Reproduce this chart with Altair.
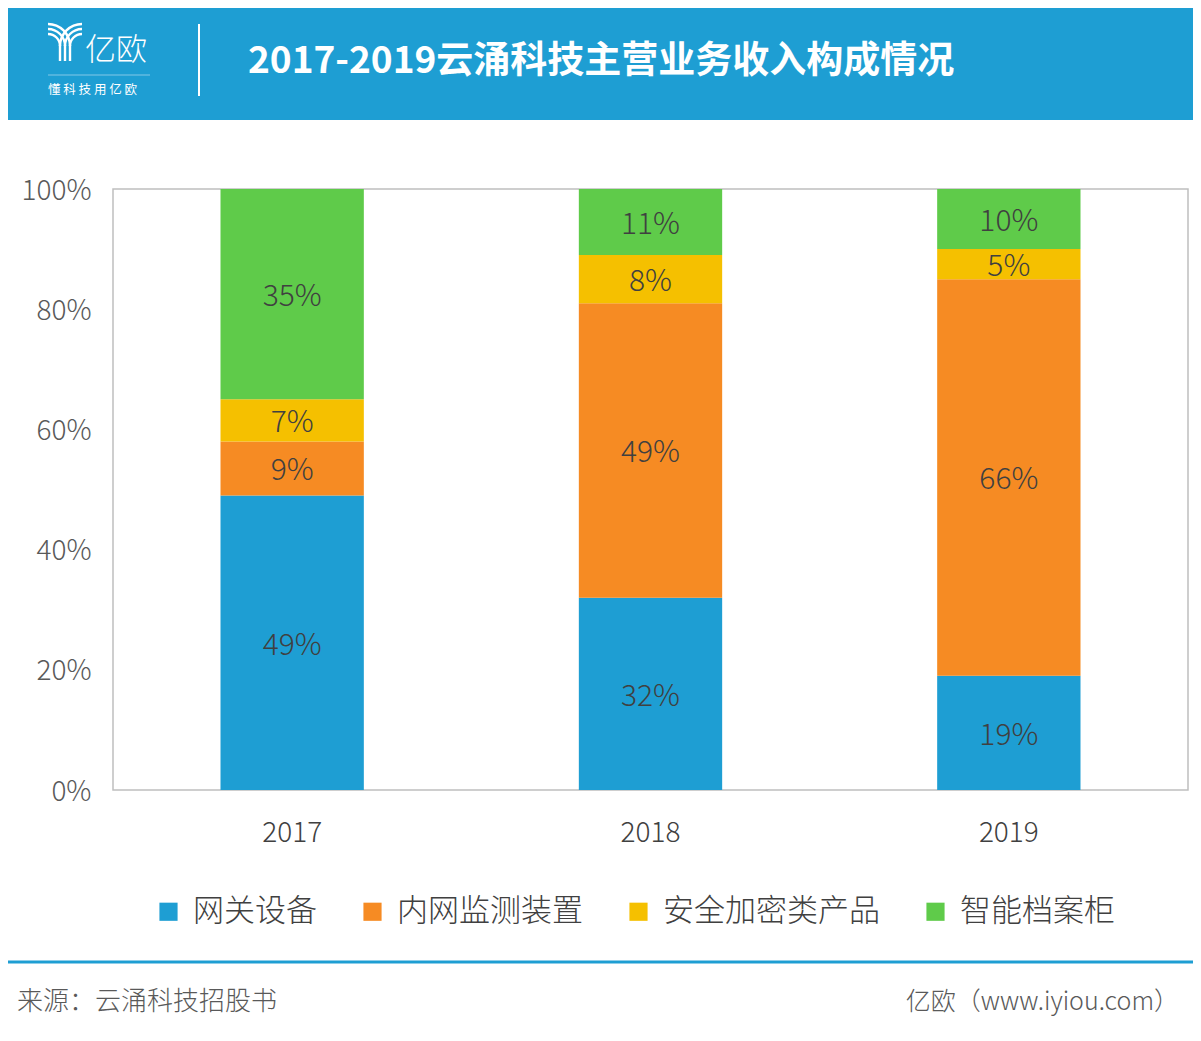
import math
import altair as alt
import pandas as pd

years = ["2017", "2018", "2019"]
categories = ["网关设备", "内网监测装置", "安全加密类产品", "智能档案柜"]
colors = ["#1E9ED3", "#F68B23", "#F5C000", "#5FCB4A"]
values = {
    "网关设备": [49, 32, 19],
    "内网监测装置": [9, 49, 66],
    "安全加密类产品": [7, 8, 5],
    "智能档案柜": [35, 11, 10],
}
y_ticks = [0, 20, 40, 60, 80, 100]
title_text = "2017-2019云涌科技主营业务收入构成情况"
source_text = "来源：云涌科技招股书"
site_text = "亿欧（www.iyiou.com）"

FONT = "Noto Sans CJK SC"
W, H = 1075, 601

rows = []
for ci, c in enumerate(categories):
    for yi, y in enumerate(years):
        rows.append({"year": y, "cat": c, "value": values[c][yi], "order": ci})
df = pd.DataFrame(rows)

base = alt.Chart(df).transform_stack(
    stack="value", groupby=["year"], sort=[alt.SortField("order")], as_=["y0", "y1"]
).transform_calculate(mid="(datum.y0 + datum.y1) / 2", label="datum.value + '%'")

x_enc = alt.X("year:N", sort=years, title=None,
              scale=alt.Scale(paddingInner=0.6, paddingOuter=0.3),
              axis=alt.Axis(labelAngle=0, labelFontSize=28, labelFont=FONT, labelFontWeight=300,
                            labelColor="#404040", labelPadding=29, ticks=False, domain=False))
y_scale = alt.Scale(domain=[0, 100], nice=False)

bars = base.mark_bar().encode(
    x=x_enc,
    y=alt.Y("y0:Q", scale=y_scale, title=None,
            axis=alt.Axis(values=y_ticks, labelExpr="datum.value + '%'", labelFontSize=28,
                          labelFont=FONT, labelFontWeight=300, labelColor="#595959",
                          labelPadding=22, labelOffset=2, ticks=False, domain=False, grid=False)),
    y2="y1:Q",
    color=alt.Color("cat:N", sort=categories,
                    scale=alt.Scale(domain=categories, range=colors),
                    legend=alt.Legend(orient="none", direction="horizontal", legendX=40, legendY=707,
                                      title=None, symbolType="square", symbolSize=330,
                                      symbolStrokeWidth=0, labelFontSize=31, labelFont=FONT,
                                      labelFontWeight=300, labelColor="#404040", labelOffset=9,
                                      columnPadding=40, labelLimit=400)),
    order=alt.Order("order:Q"),
)

texts = base.mark_text(fontSize=30, font=FONT, fontWeight=300, color="#404040",
                       baseline="middle", dy=3).encode(
    x=alt.X("year:N", sort=years),
    y=alt.Y("mid:Q", scale=y_scale),
    text="label:N",
)

deco_df = pd.DataFrame({"k": [0]})
deco = alt.Chart(deco_df)

header = deco.mark_rect(color="#1E9ED3").encode(
    x=alt.value(-113), x2=alt.value(1090), y=alt.value(-190), y2=alt.value(-69))
title = deco.mark_text(text=title_text, fontSize=37, font=FONT, fontWeight="bold", color="white",
                       align="left", baseline="middle").encode(x=alt.value(135), y=alt.value(-127))
sep = deco.mark_rule(color="white", strokeWidth=2).encode(
    x=alt.value(86), y=alt.value(-165), y2=alt.value(-93))

# logo: three curved stripes on each side joining three vertical stems
logo_layers = []
for r in (12, 17, 22):
    logo_layers.append(deco.mark_arc(color="white", theta=0, theta2=math.pi / 2,
                                     radius=r + 1.2, radius2=r - 1.2).encode(
        x=alt.value(-65), y=alt.value(-143)))
    logo_layers.append(deco.mark_arc(color="white", theta=1.5 * math.pi, theta2=2 * math.pi,
                                     radius=r + 1.2, radius2=r - 1.2).encode(
        x=alt.value(-31), y=alt.value(-143)))
for sx in (-53, -48, -43):
    logo_layers.append(deco.mark_rule(color="white", strokeWidth=2.4).encode(
        x=alt.value(sx), y=alt.value(-143.5), y2=alt.value(-128)))

logo_txt = deco.mark_text(text="亿欧", fontSize=31, font=FONT, fontWeight=200, color="white",
                          align="left", baseline="middle").encode(x=alt.value(-28), y=alt.value(-138))
logo_line = deco.mark_rule(color="white", strokeWidth=1, opacity=0.45).encode(
    x=alt.value(-65), x2=alt.value(37), y=alt.value(-114))
logo_sub = deco.mark_text(text="懂 科 技   用 亿 欧", fontSize=12.5, font=FONT, color="white",
                          align="left", baseline="middle").encode(
    x=alt.value(-65), y=alt.value(-99))
footer_line = deco.mark_rule(color="#1E9ED3", strokeWidth=3).encode(
    x=alt.value(-113), x2=alt.value(1090), y=alt.value(773))
src = deco.mark_text(text=source_text, fontSize=26, font=FONT, fontWeight=300, color="#595959",
                     align="left", baseline="middle").encode(x=alt.value(-96), y=alt.value(813))
site = deco.mark_text(text=site_text, fontSize=25, font=FONT, fontWeight=300, color="#595959",
                      align="right", baseline="middle").encode(x=alt.value(1066), y=alt.value(813))

chart = alt.layer(bars, texts, header, title, sep, *logo_layers, logo_txt, logo_line, logo_sub,
                  footer_line, src, site).properties(
    width=W, height=H,
    autosize=alt.AutoSizeParams(type="none"),
    padding={"left": 105, "top": 181, "right": 5, "bottom": 243},
    background="white",
).configure_view(stroke="#BFBFBF", strokeWidth=1.5)

chart.save("out.html", embed_options={"renderer": "svg", "actions": False})
